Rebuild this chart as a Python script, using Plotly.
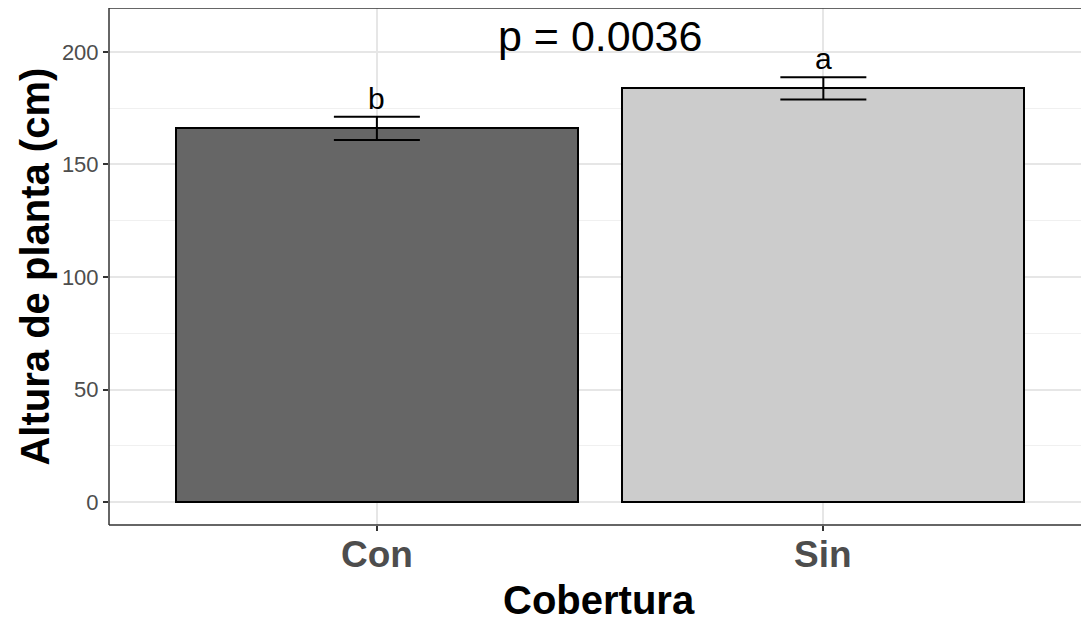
import plotly.graph_objects as go

categories = ["Con", "Sin"]
x_pos = [1, 2]
means = [166.0, 183.8]
se = [5.2, 4.9]
letters = ["b", "a"]
fills = ["#666666", "#CCCCCC"]
p_label = "p = 0.0036"
y_ticks = [0, 50, 100, 150, 200]

FONT = "Liberation Sans, Arial"

fig = go.Figure()
fig.add_trace(go.Bar(
    x=x_pos, y=means, width=0.9,
    marker=dict(color=fills, line=dict(color="black", width=2)),
    error_y=dict(type="data", array=se, visible=True, color="black", thickness=2, width=43),
    showlegend=False,
))

for xi, m, s, l in zip(x_pos, means, se, letters):
    fig.add_annotation(x=xi, y=m + s, text=l, showarrow=False, yanchor="bottom", yshift=0,
                       font=dict(family=FONT, size=30, color="black"))

fig.add_annotation(x=1.5, y=207, text=p_label, showarrow=False,
                   font=dict(family=FONT, size=43, color="black"))

# x category labels
for xi, c in zip(x_pos, categories):
    fig.add_annotation(x=xi, y=-0.058, xref="x", yref="paper", text=f"<b>{c}</b>", showarrow=False,
                       xanchor="center", yanchor="middle",
                       font=dict(family=FONT, size=37, color="#4D4D4D"))

# axis titles
fig.add_annotation(x=0.5, y=-0.145, xref="paper", yref="paper", text="<b>Cobertura</b>", showarrow=False,
                   xanchor="center", yanchor="middle",
                   font=dict(family=FONT, size=40, color="black"))
fig.add_annotation(x=-0.0765, y=0.5, xref="paper", yref="paper", text="<b>Altura de planta (cm)</b>",
                   showarrow=False, textangle=-90, xanchor="center", yanchor="middle",
                   font=dict(family=FONT, size=40, color="black"))

# panel border (top, left, bottom)
for x0, y0, x1, y1 in [(0, 1, 1, 1), (0, 0, 0, 1), (0, 0, 1, 0)]:
    fig.add_shape(type="line", xref="paper", yref="paper", x0=x0, y0=y0, x1=x1, y1=y1,
                  line=dict(color="#333333", width=1.5), layer="above")

fig.update_layout(
    width=1081, height=616,
    margin=dict(l=101, r=0, t=0, b=99),
    plot_bgcolor="white", paper_bgcolor="white",
    bargap=0,
    xaxis=dict(range=[0.4, 2.595], tickvals=x_pos, showticklabels=False,
               showgrid=True, gridcolor="#E6E6E6", gridwidth=1.5, zeroline=False,
               ticks="outside", ticklen=5, tickcolor="#333333", tickwidth=1.5,
               showline=False),
    yaxis=dict(range=[-10.2, 219.5], tickvals=y_ticks,
               showgrid=True, gridcolor="#E6E6E6", gridwidth=1.5, zeroline=False,
               ticks="outside", ticklen=5, tickcolor="#333333", tickwidth=1.5,
               tickfont=dict(family=FONT, size=22, color="#4D4D4D"),
               minor=dict(tickvals=[25, 75, 125, 175], showgrid=True, gridcolor="#F0F0F0", gridwidth=1, ticks=""),
               showline=False),
)

fig.write_html("out.html")
